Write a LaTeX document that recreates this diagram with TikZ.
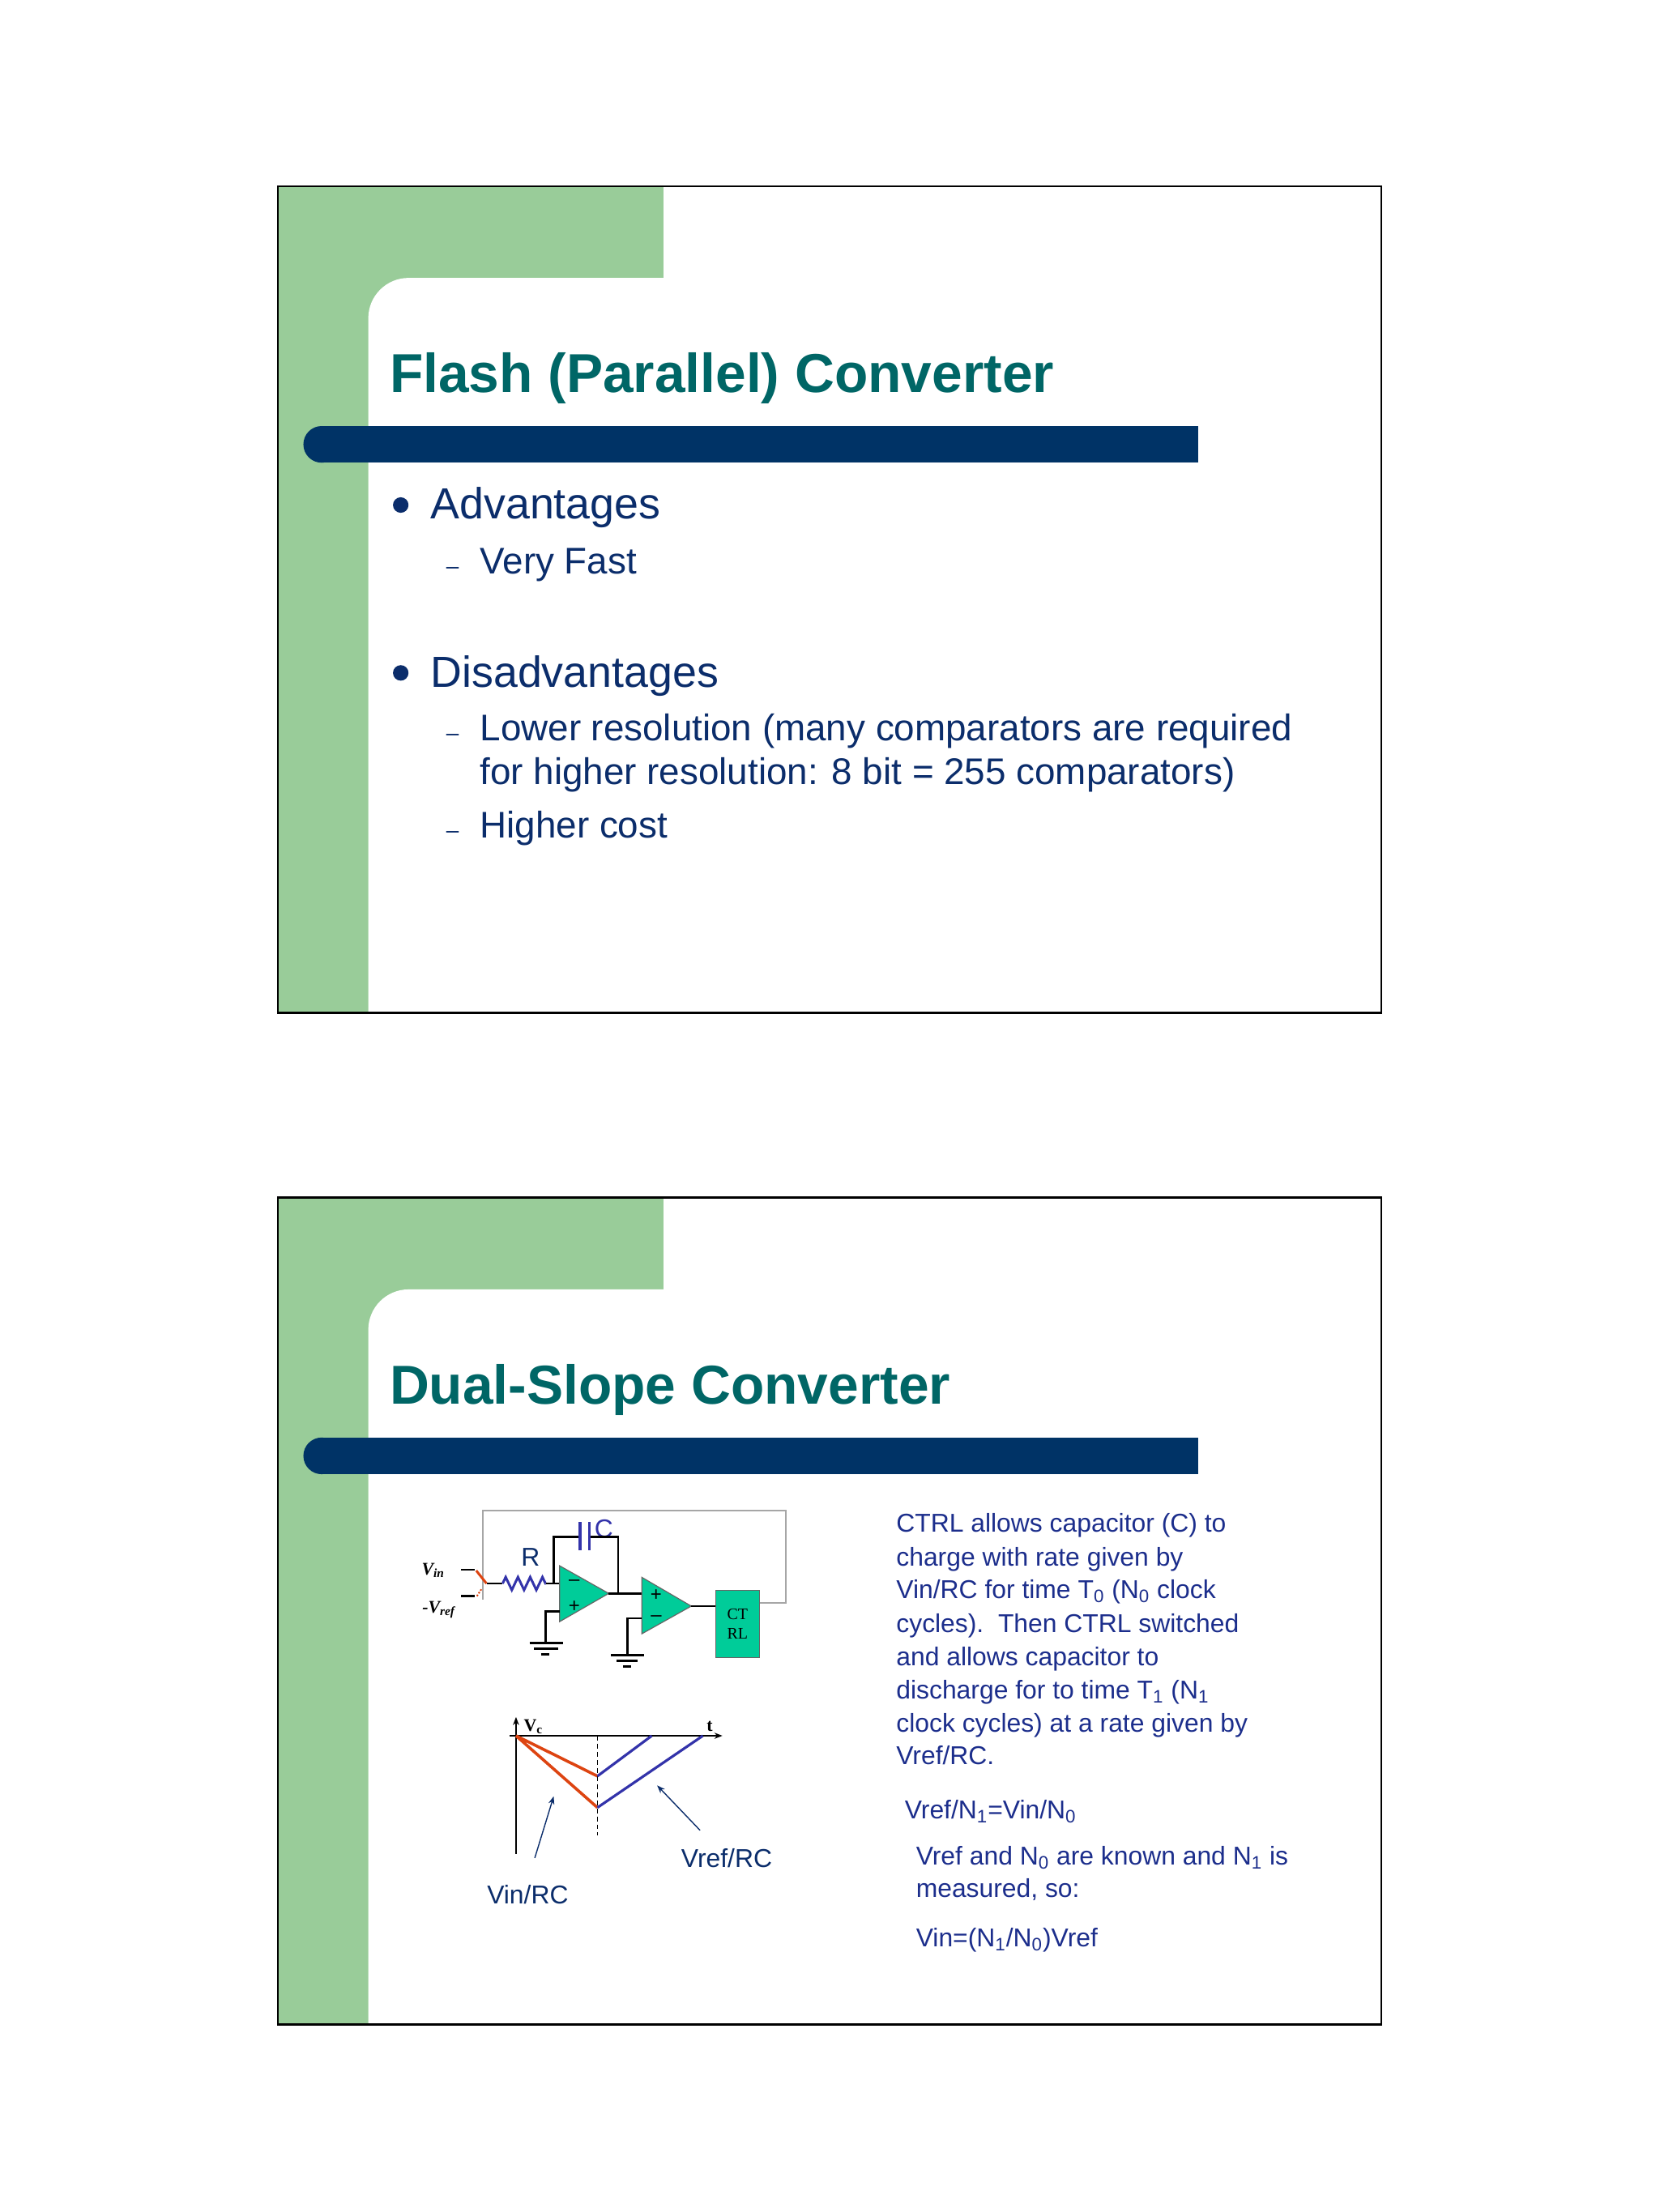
\documentclass[tikz,border=0pt]{standalone}
\usepackage{fontspec}
\setmainfont{Liberation Sans}
\newfontfamily\serifx{Liberation Serif}
\usetikzlibrary{arrows.meta,decorations.pathmorphing}
\definecolor{sgreen}{HTML}{99CC99}
\definecolor{navy}{HTML}{003366}
\definecolor{teal}{HTML}{006666}
\definecolor{txt}{HTML}{0B2D6B}
\definecolor{rtxt}{HTML}{1C2E8C}
\definecolor{opg}{HTML}{00CC99}
\definecolor{org}{HTML}{DD4411}
\definecolor{blu}{HTML}{3333AA}
\tikzset{
 ttl/.style={anchor=base west,text=teal,font=\fontsize{34}{40}\selectfont\bfseries,inner sep=0},
 bul/.style={anchor=base west,text=txt,font=\fontsize{27}{32}\selectfont,inner sep=0},
 sub/.style={anchor=base west,text=txt,font=\fontsize{23}{27}\selectfont,inner sep=0},
 rt/.style={anchor=base west,text=rtxt,font=\fontsize{16}{20}\selectfont,inner sep=0},
 lab/.style={text=txt,font=\fontsize{16}{20}\selectfont,inner sep=0},
 wire/.style={line width=1.3pt},
 gnd/.style={line width=1.6pt},
 opamp/.style={fill=opg,draw=black!60,line width=0.6pt},
}
\newcommand{\slideframe}{%
 \fill[sgreen] (197,132) rectangle (470,718);
 \fill[white] (979,718) -- (261,718) [rounded corners=25] -- (261,197) [sharp corners] -- (979,197) -- cycle;
 \fill[navy] (228,302) rectangle (849,328);
 \fill[navy] (228,315) circle (13);
 \draw[line width=1.3pt] (197,132) rectangle (979,718);
}
\begin{document}
\begin{tikzpicture}[x=0.875pt,y=-0.875pt]
\useasboundingbox (0,0) rectangle (1176,1568);
\fill[white] (0,0) rectangle (1176,1568);
% slide 1
\slideframe
\node[ttl] (t1) at (276,278) {Flash (Parallel) Converter};
\fill[txt] (284,358) circle (5.5);
\node[bul] (a1) at (305,368) {Advantages};
\node[sub] (a2) at (316,407) {\fontsize{14}{16}\selectfont –};
\node[sub] (a3) at (340,407) {Very Fast};
\fill[txt] (284,477) circle (5.5);
\node[bul] (d1) at (305,487) {Disadvantages};
\node[sub] (d2) at (316,525) {\fontsize{14}{16}\selectfont –};
\node[sub] (d3) at (340,525) {Lower resolution (many comparators are required};
\node[sub] (d4) at (340,556) {for higher resolution: 8 bit = 255 comparators)};
\node[sub] (d5) at (316,594) {\fontsize{14}{16}\selectfont –};
\node[sub] (d6) at (340,594) {Higher cost};
% slide 2
\begin{scope}[shift={(0,717)}]
\slideframe
\node[ttl] (t2) at (276,278) {Dual-Slope Converter};
\end{scope}
\begin{scope}[shift={(2,5)}]
% circuit
\draw[black!35,line width=1pt] (504.7,1131.2) -- (554.7,1131.2) -- (554.7,1066) -- (340,1066) -- (340,1129);
\node[font=\serifx\itshape\bfseries\fontsize{11}{12}\selectfont,inner sep=0] (vin) at (305,1108) {V\textsubscript{in}};
\node[font=\serifx\itshape\bfseries\fontsize{11}{12}\selectfont,inner sep=0] (vref) at (309,1136) {-V\textsubscript{ref}};
\draw[wire] (324.7,1107.8) -- (334.2,1107.8);
\draw[wire] (324.7,1126.4) -- (334.2,1126.4);
\draw[org,line width=1.5pt] (335.5,1108.3) -- (342.8,1117.5);
\draw[org,densely dotted,line width=1pt] (336,1126.4) -- (339.5,1121);
\draw[wire] (342.8,1117.5) -- (354.2,1117.5);
\draw[blu,line width=1.5pt,decorate,decoration={zigzag,segment length=7.6,amplitude=4}] (354.2,1117.5) -- (384.7,1117.5);
\draw[wire] (384.7,1117.5) -- (394.6,1117.5);
\node[lab,text=txt] (R) at (374,1099) {R};
\node[lab,text=blu] (C) at (426,1079) {C};
\draw[wire] (390.4,1117.5) -- (390.4,1084.5) -- (409.1,1084.5);
\draw[wire] (415.7,1084.5) -- (436.1,1084.5) -- (436.1,1124.5);
\draw[blu,line width=1.8pt] (409.1,1074) -- (409.1,1094) (415.7,1074) -- (415.7,1094);
\draw[opamp] (394.6,1104.9) -- (429.4,1124.5) -- (394.6,1144.5) -- cycle;
\node[font=\fontsize{12}{12}\selectfont,inner sep=0] (m1) at (405,1117) {–};
\node[font=\fontsize{12}{12}\selectfont,inner sep=0] (p1) at (405,1134) {+};
\draw[wire] (394.6,1137.3) -- (384.7,1137.3) -- (384.7,1159.7);
\draw[gnd] (373.3,1159.7) -- (397.1,1159.7) (376.5,1163.8) -- (393.5,1163.8) (381.5,1167.5) -- (387.5,1167.5);
\draw[wire] (429.4,1124.5) -- (452.9,1124.5);
\draw[opamp] (452.9,1113.1) -- (487.9,1133.5) -- (452.9,1153.1) -- cycle;
\node[font=\fontsize{12}{12}\selectfont,inner sep=0] (p2) at (463,1126) {+};
\node[font=\fontsize{12}{12}\selectfont,inner sep=0] (m2) at (463,1142) {–};
\draw[wire] (452.9,1142.2) -- (442.8,1142.2) -- (442.8,1168.3);
\draw[gnd] (431,1168.3) -- (454.5,1168.3) (435,1172.2) -- (450,1172.2) (439.5,1176.5) -- (445.5,1176.5);
\draw[line width=0.8pt] (487.9,1133.5) -- (504.7,1133.5);
\node[draw=black!60,fill=opg,minimum width=31.4*0.875pt,minimum height=47.7*0.875pt,inner sep=0,align=center,font=\serifx\fontsize{10}{12}\selectfont,anchor=north west] (ctrl) at (504.7,1122) {CT\\RL};
% graph
\draw[-{Stealth[length=5pt]},line width=0.8pt] (363.7,1309.2) -- (363.7,1212.1);
\draw[-{Stealth[length=5pt]},line width=0.8pt] (359,1225.4) -- (510,1225.4);
\draw[densely dashed,line width=0.5pt] (421.4,1225.4) -- (421.4,1295.9);
\draw[org,line width=1.8pt] (363.7,1225.4) -- (421.4,1254) (363.7,1225.4) -- (421.4,1276.3);
\draw[blu,line width=1.6pt] (421.4,1254) -- (459.9,1225.4) (421.4,1276.3) -- (496.1,1225.4);
\node[font=\serifx\bfseries\fontsize{11}{12}\selectfont,inner sep=0] (vc) at (376,1219) {V\textsubscript{c}};
\node[font=\serifx\bfseries\fontsize{11}{12}\selectfont,inner sep=0] (tt) at (501,1219) {t};
\coordinate (a1s) at (377,1312); \coordinate (a1e) at (390.4,1268.3);
\coordinate (a2s) at (494.1,1292.4); \coordinate (a2e) at (463.7,1260.6);
\draw[-{Stealth[length=5pt]},txt,line width=0.7pt] (a1s) -- (a1e);
\draw[-{Stealth[length=5pt]},txt,line width=0.7pt] (a2s) -- (a2e);
\node[lab] (vinrc) at (372,1338) {Vin/RC};
\node[lab] (vrefrc) at (513,1312) {Vref/RC};
\end{scope}
% right text
\node[rt] (r1) at (635,1086) {CTRL allows capacitor (C) to};
\node[rt] (r2) at (635,1110) {charge with rate given by};
\node[rt] (r3) at (635,1133) {Vin/RC for time T\textsubscript{0} (N\textsubscript{0} clock};
\node[rt] (r4) at (635,1157) {cycles).\ \ Then CTRL switched};
\node[rt] (r5) at (635,1181) {and allows capacitor to};
\node[rt] (r6) at (635,1204) {discharge for to time T\textsubscript{1} (N\textsubscript{1}};
\node[rt] (r7) at (635,1228) {clock cycles) at a rate given by};
\node[rt] (r8) at (635,1251) {Vref/RC.};
\node[rt] (r9) at (641,1289) {Vref/N\textsubscript{1}=Vin/N\textsubscript{0}};
\node[rt] (r10) at (649,1322) {Vref and N\textsubscript{0} are known and N\textsubscript{1} is};
\node[rt] (r11) at (649,1345) {measured, so:};
\node[rt] (r12) at (649,1380) {Vin=(N\textsubscript{1}/N\textsubscript{0})Vref};
\end{tikzpicture}
\end{document}
